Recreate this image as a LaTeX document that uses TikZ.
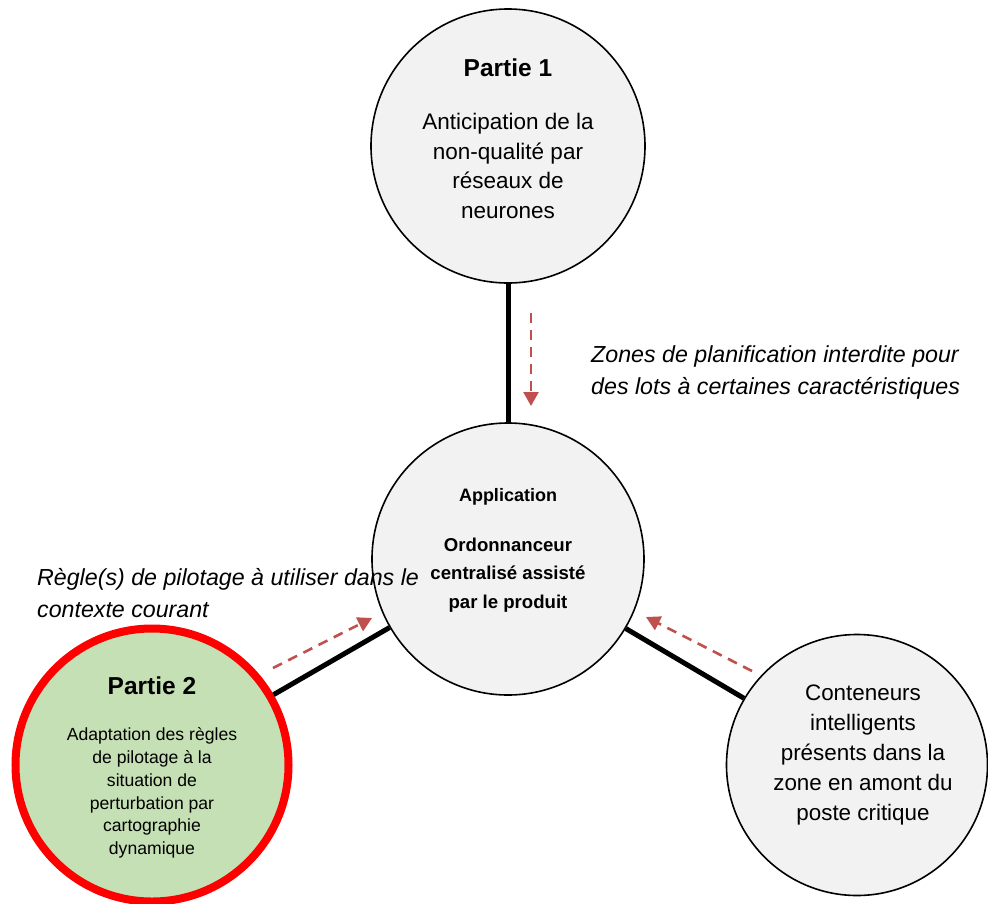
\documentclass[tikz,border=0pt]{standalone}
\usepackage{fontspec}
\setmainfont{Liberation Sans}
\usetikzlibrary{arrows.meta}
\definecolor{cfill}{HTML}{F2F2F2}
\definecolor{gfill}{HTML}{C5E0B4}
\definecolor{arrred}{HTML}{C0504D}
\definecolor{pred}{HTML}{FF0000}
\tikzset{
  bubble/.style={circle, draw=black, line width=1.6pt, fill=cfill, inner sep=0pt},
  hotbubble/.style={circle, draw=pred, line width=8pt, fill=gfill, inner sep=0pt},
  link/.style={line width=5pt, black},
  flow/.style={arrred, line width=2.6pt, dash pattern=on 10pt off 7pt,
     -{Triangle[length=14pt,width=15pt]}},
  txt/.style={inner sep=0pt, align=center, text=black},
  note/.style={inner sep=0pt, align=left, anchor=west, text=black,
     font=\fontsize{23.2}{32}\selectfont\itshape},
}
\begin{document}
\begin{tikzpicture}[x=1pt,y=-1pt]
\useasboundingbox (0,0) rectangle (988,903);
% circles
\node[bubble, minimum size=274pt] (p1) at (508,146) {};
\node[bubble, minimum size=272pt] (app) at (508,559) {};
\node[hotbubble, minimum size=273pt] (p2) at (152,765) {};
\node[bubble, minimum size=261pt] (cont) at (857,765) {};
% connectors
\draw[link] (p1) -- (app);
\draw[link] (p2) -- (app);
\draw[link] (cont) -- (app);
% flow arrows
\coordinate (f1s) at (531,313);
\coordinate (f1e) at (531,406);
\coordinate (f2s) at (273,668);
\coordinate (f2e) at (372,618);
\coordinate (f3s) at (752,671);
\coordinate (f3e) at (646,617);
\draw[flow] (f1s) -- (f1e);
\draw[flow] (f2s) -- (f2e);
\draw[flow] (f3s) -- (f3e);
% texts
\node[txt, font=\fontsize{24.5}{28}\selectfont\bfseries] (p1t) at (508,68) {Partie 1};
\node[txt, font=\fontsize{22.5}{29.5}\selectfont] (p1b) at (508,166) {Anticipation de la\\non-qualité par\\réseaux de\\neurones};
\node[txt, font=\fontsize{18}{22}\selectfont\bfseries] (appt) at (508,497) {Application};
\node[txt, font=\fontsize{18.6}{28.5}\selectfont\bfseries] (appb) at (508,575) {Ordonnanceur\\centralisé assisté\\par le produit};
\node[txt, font=\fontsize{24.5}{28}\selectfont\bfseries] (p2t) at (152,686) {Partie 2};
\node[txt, font=\fontsize{17.6}{22.8}\selectfont] (p2b) at (152,793) {Adaptation des règles\\de pilotage à la\\situation de\\perturbation par\\cartographie\\dynamique};
\node[txt, font=\fontsize{22.4}{30}\selectfont] (contt) at (863,755) {Conteneurs\\intelligents\\présents dans la\\zone en amont du\\poste critique};
\node[note] (n1) at (591,372) {Zones de planification interdite pour\\des lots à certaines caractéristiques};
\node[note] (n2) at (37,593) {Règle(s) de pilotage à utiliser dans le\\contexte courant};
\end{tikzpicture}
\end{document}
